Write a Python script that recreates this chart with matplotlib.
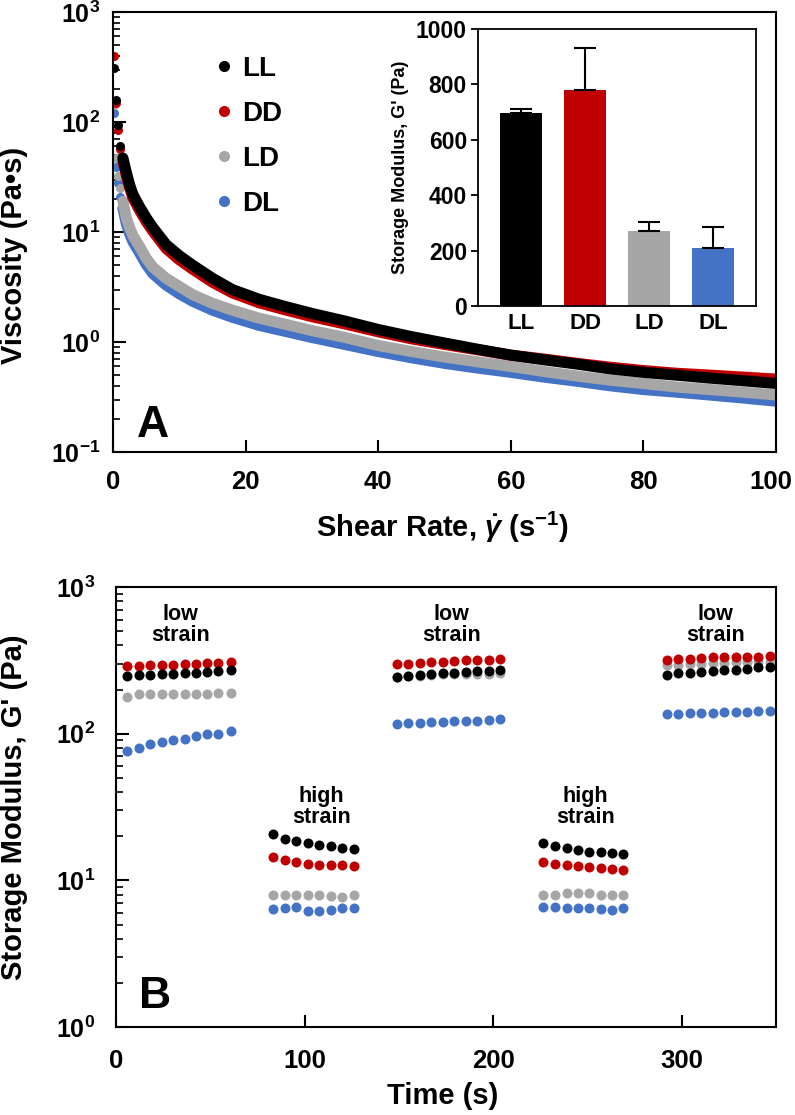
import numpy as np
import matplotlib
matplotlib.use("Agg")
import matplotlib.pyplot as plt
from matplotlib.lines import Line2D
from matplotlib.ticker import LogLocator, FuncFormatter, NullFormatter
from matplotlib.transforms import ScaledTranslation

plt.rcParams['font.family'] = ['Liberation Sans', 'DejaVu Sans']
plt.rcParams['font.weight'] = 'bold'
plt.rcParams['mathtext.fontset'] = 'custom'
plt.rcParams['mathtext.rm'] = 'Liberation Sans:bold'
plt.rcParams['mathtext.bf'] = 'Liberation Sans:bold'
plt.rcParams['mathtext.it'] = 'Liberation Sans:bold:italic'
plt.rcParams['axes.linewidth'] = 1.5

# ---- data ----
names = ['LL', 'DD', 'LD', 'DL']
colors = {'LL': '#000000', 'DD': '#C00000', 'LD': '#A6A6A6', 'DL': '#4472C4'}

# panel A: viscosity vs shear rate
shear = [0.1, 0.5, 0.8, 1.1, 1.5, 2, 2.5, 3, 4, 5, 6, 8, 10, 12, 15, 18, 22, 26,
         30, 35, 40, 45, 50, 55, 60, 65, 70, 75, 80, 85, 90, 95, 100]
visc_LL = [308, 158, 94, 61, 47, 35, 27, 22, 17, 13.5, 11, 7.7, 6.1, 5.0, 3.8, 3.0, 2.45, 2.1,
           1.82, 1.55, 1.3, 1.12, 0.98, 0.86, 0.76, 0.69, 0.63, 0.57, 0.53, 0.5, 0.47, 0.445, 0.42]
visc_DD = [398, 149, 85, 57, 44, 33, 25.5, 20.5, 15.8, 12.5, 10.2, 7.1, 5.6, 4.6, 3.5, 2.8, 2.28, 1.96,
           1.7, 1.46, 1.24, 1.07, 0.95, 0.85, 0.76, 0.7, 0.64, 0.59, 0.55, 0.52, 0.5, 0.48, 0.46]
visc_LD = [142, 47, 32, 25, 19, 13.5, 11, 9.3, 7.4, 5.8, 4.8, 3.8, 3.2, 2.7, 2.25, 1.95, 1.65, 1.45,
           1.27, 1.1, 0.93, 0.82, 0.73, 0.66, 0.6, 0.54, 0.49, 0.45, 0.42, 0.39, 0.37, 0.35, 0.33]
visc_DL = [122, 39, 28, 21, 16.5, 12, 9.7, 8.2, 6.5, 5.1, 4.2, 3.3, 2.75, 2.35, 1.95, 1.68, 1.42, 1.25,
           1.1, 0.95, 0.82, 0.72, 0.64, 0.58, 0.53, 0.48, 0.44, 0.4, 0.37, 0.35, 0.33, 0.31, 0.29]

# inset: storage modulus bars
gmod = [698, 780, 271, 208]
gmod_err = [13, 151, 33, 78]

# panel B: storage modulus vs time (low/high strain steps)
time = [6.0, 12.2, 18.2, 24.2, 30.4, 36.6, 42.6, 48.4, 54.3, 61.0,
        83.4, 89.7, 95.6, 101.7, 107.9, 114.1, 120.1, 126.1,
        149.1, 154.9, 161.3, 167.1, 173.5, 179.3, 185.7, 191.5, 197.9, 203.7,
        226.7, 232.9, 239.1, 244.9, 250.9, 257.0, 263.0, 269.0,
        292.1, 298.3, 304.5, 310.3, 316.5, 322.5, 328.7, 334.7, 340.7, 346.9]
g_LL = [247, 250, 252, 255, 257, 258, 261, 263, 266, 271,
        20.6, 19.2, 18.5, 17.9, 17.3, 17.2, 16.7, 16.4,
        244, 247, 251, 255, 258, 260, 262, 266, 269, 272,
        17.9, 17.1, 16.7, 16.2, 15.7, 15.5, 15.3, 15.1,
        252, 258, 260, 264, 269, 272, 274, 277, 283, 286]
g_DD = [289, 290, 292, 294, 296, 298, 300, 302, 304, 308,
        14.5, 13.7, 13.3, 12.9, 12.8, 12.8, 12.7, 12.5,
        297, 300, 304, 308, 309, 314, 318, 319, 319, 321,
        13.3, 12.9, 12.7, 12.5, 12.3, 12.2, 11.9, 11.8,
        318, 321, 324, 327, 331, 333, 334, 336, 336, 340]
g_LD = [178, 186, 186, 187, 187, 187, 187, 187, 188, 190,
        8.0, 8.0, 7.95, 8.0, 8.0, 7.8, 7.7, 7.9,
        243, 246, 249, 252, 254, 255, 256, 256, 257, 258,
        8.0, 8.0, 8.15, 8.2, 8.15, 8.0, 7.9, 8.0,
        292, 296, 299, 301, 303, 305, 306, 307, 308, 310]
g_DL = [76, 79.6, 85, 88, 90, 92, 96, 99, 100, 104,
        6.4, 6.45, 6.6, 6.15, 6.2, 6.25, 6.5, 6.5,
        115.7, 118, 118.6, 120.5, 120.5, 121.3, 121.9, 122.5, 123.8, 125.7,
        6.6, 6.6, 6.5, 6.45, 6.45, 6.4, 6.25, 6.5,
        136, 137, 137.5, 138.7, 138.7, 139.6, 139.6, 141, 142.6, 143.2]

strain_labels = ['low\nstrain', 'high\nstrain', 'low\nstrain', 'high\nstrain', 'low\nstrain']
strain_x = [34, 109, 178, 249, 318]
strain_y = [550, 31.6, 550, 31.6, 550]

visc = {'LL': visc_LL, 'DD': visc_DD, 'LD': visc_LD, 'DL': visc_DL}
gt = {'LL': g_LL, 'DD': g_DD, 'LD': g_LD, 'DL': g_DL}
draw_order = ['DL', 'LD', 'DD', 'LL']


def decade(v, pos):
    return r'$\mathbf{10^{%d}}$' % int(round(np.log10(v)))


def style_log(ax, ypad):
    ax.set_yscale('log')
    ax.yaxis.set_major_locator(LogLocator(base=10))
    ax.yaxis.set_minor_locator(LogLocator(base=10, subs=np.arange(2, 10)))
    ax.yaxis.set_major_formatter(FuncFormatter(decade))
    ax.yaxis.set_minor_formatter(NullFormatter())
    ax.tick_params(axis='y', which='major', direction='in', length=9, width=1.5,
                   labelsize=18, pad=ypad, right=False)
    ax.tick_params(axis='y', which='minor', direction='in', length=5, width=1.2, right=False)
    ax.tick_params(axis='x', which='major', direction='in', length=9, width=1.5,
                   labelsize=18.5, top=False)


fig = plt.figure(figsize=(7.95, 11.15), dpi=100)

# ---- panel A ----
ax = fig.add_axes([0.1421, 0.5946, 0.834, 0.3946])
for n in draw_order:
    ax.plot(shear[4:], visc[n][4:], color=colors[n], lw=8,
            solid_capstyle='round', solid_joinstyle='round')
    ax.plot(shear, visc[n], 'o', ms=6.5, color=colors[n], mec='none')
ax.set_xlim(0, 100)
ax.set_ylim(0.1, 1000)
style_log(ax, 9)
ax.set_xticks([0, 20, 40, 60, 80, 100])
ax.tick_params(axis='x', pad=13)
# keep the last tick label inside the figure edge
last = ax.get_xticklabels()[-1]
last.set_transform(last.get_transform() + ScaledTranslation(-4 / 72, 0, fig.dpi_scale_trans))
ax.text(0.036, 0.034, 'A', transform=ax.transAxes, fontsize=32, fontweight='bold')

handles = [Line2D([], [], marker='o', ls='none', ms=8, color=colors[n], mec='none') for n in names]
ax.legend(handles, names, loc='upper left', bbox_to_anchor=(0.13, 0.925), frameon=False,
          fontsize=20, handletextpad=0.15, labelspacing=0.68, handlelength=1.0,
          borderaxespad=0)

fig.text(14 / 795, 1 - 255 / 1115, 'Viscosity (Pa\u2022s)', rotation=90,
         ha='center', va='center', fontsize=21, fontweight='bold')
fig.text(443 / 795, 1 - 527 / 1115, r'Shear Rate, $\dot{\gamma}$ (s$^{\mathbf{-1}}$)',
         ha='center', va='center', fontsize=21, fontweight='bold')

# inset
ins = fig.add_axes([0.6013, 0.7256, 0.3497, 0.2484])
pos = np.arange(1, 5)
ins.bar(pos, gmod, width=0.66, color=[colors[n] for n in names], zorder=2)
ins.errorbar(pos, gmod, yerr=[np.zeros(4), gmod_err], fmt='none', ecolor='black',
             elinewidth=1.5, capsize=8, capthick=1.5, zorder=3)
ins.set_xlim(0.33, 4.67)
ins.set_ylim(0, 1000)
ins.set_xticks(pos)
ins.set_xticklabels(names)
ins.set_yticks(range(0, 1001, 200))
for s in ins.spines.values():
    s.set_linewidth(1.3)
ins.tick_params(axis='y', direction='out', length=5, width=1.3, labelsize=16.5, pad=3)
ins.tick_params(axis='x', direction='in', length=5, width=1.3, labelsize=16, pad=5)
ins.set_ylabel("Storage Modulus, G' (Pa)", fontsize=13, fontweight='bold', labelpad=5)

# ---- panel B ----
bx = fig.add_axes([0.1459, 0.0789, 0.830, 0.3946])
for n in draw_order:
    bx.plot(time, gt[n], 'o', ls='none', ms=7.2, color=colors[n], mec='none')
bx.set_xlim(0, 350)
bx.set_ylim(1, 1000)
style_log(bx, 15)
bx.set_xticks([0, 100, 200, 300])
bx.tick_params(axis='x', pad=16)
for t, xx, yy in zip(strain_labels, strain_x, strain_y):
    bx.text(xx, yy, t, ha='center', va='center', fontsize=15.5, fontweight='bold', linespacing=1.0)
bx.text(0.035, 0.043, 'B', transform=bx.transAxes, fontsize=32, fontweight='bold')

fig.text(14 / 795, 1 - 807 / 1115, "Storage Modulus, G' (Pa)", rotation=90,
         ha='center', va='center', fontsize=21, fontweight='bold')
fig.text(443 / 795, 1 - 1096 / 1115, 'Time (s)', ha='center', va='center',
         fontsize=21, fontweight='bold')

fig.savefig('out.png', dpi=100)
